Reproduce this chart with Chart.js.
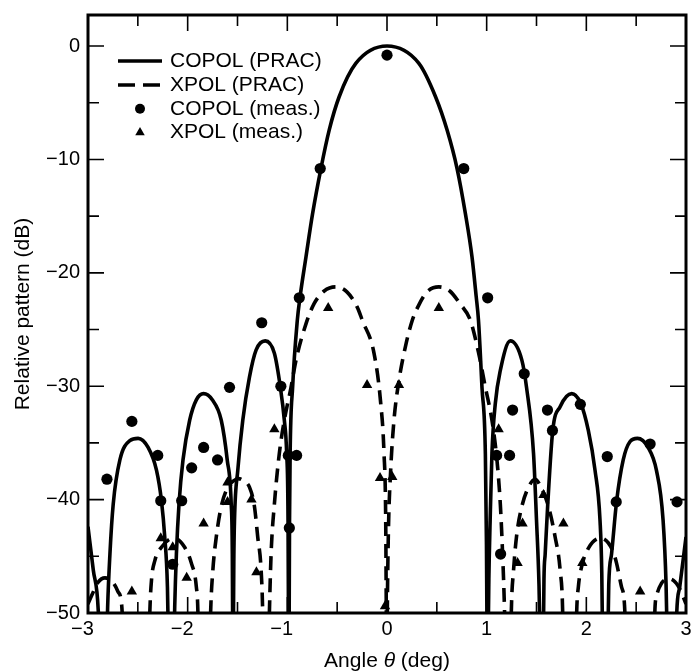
<!DOCTYPE html>
<html><head><meta charset="utf-8">
<script src="https://cdn.jsdelivr.net/npm/chart.js@4/dist/chart.umd.min.js"></script>
<style>html,body{margin:0;padding:0;background:#fff;}canvas{display:block;}</style>
</head><body>
<canvas id="c" width="692" height="671"></canvas>
<script>
const FONT = '"Liberation Sans", Arial, Helvetica, sans-serif';

// axis ticks
const xTickValues = [-3, -2, -1, 0, 1, 2, 3];
const xMinorValues = [-2.5, -1.5, -0.5, 0.5, 1.5, 2.5];
const yTickValues = [-50, -40, -30, -20, -10, 0];
const yMinorValues = [-45, -35, -25, -15, -5];
const xRange = [-3, 3];
const yRange = [-50, 2.74];

const seriesLabels = ['COPOL (PRAC)', 'XPOL (PRAC)', 'COPOL (meas.)', 'XPOL (meas.)'];
const xTitle = ['Angle ', '\u03b8', ' (deg)'];
const yTitle = 'Relative pattern (dB)';

// COPOL (PRAC) curve; null = gap at a deep null
const copolTheta = [
  -3.0, -2.947, -2.897, -2.882, -2.85,
  -2.815, -2.803, -2.78, -2.747, -2.68, -2.58, -2.497, -2.397, -2.313, -2.263, -2.23, -2.203, -2.19, -2.165,
  -2.14, -2.13, -2.113, -2.087, -2.047, -1.98, -1.913, -1.84, -1.753, -1.663, -1.603, -1.563, -1.552, -1.547, -1.545,
  -1.543, -1.537, -1.53, -1.497, -1.447, -1.38, -1.313, -1.222, -1.13, -1.07, -1.03, -1.007, -0.993, -0.987, -0.985,
  -0.983, -0.978, -0.972, -0.947, -0.9, -0.872, -0.813, -0.747, -0.663, -0.58, -0.48, -0.313, 0, 0.32, 0.487, 0.603, 0.703, 0.787, 0.853, 0.895, 0.918, 0.953, 0.987, 0.998, 1.005, 1.009,
  1.013, 1.022, 1.035, 1.053, 1.087, 1.137, 1.237, 1.353, 1.40, 1.47, 1.50, 1.525, 1.54, 1.553,
  1.567, 1.575, 1.587, 1.613, 1.663, 1.737, 1.853, 1.943, 2.02, 2.087, 2.137, 2.155, 2.165, 2.19,
  2.213, 2.225, 2.253, 2.303, 2.37, 2.437, 2.513, 2.62, 2.703, 2.77, 2.80, 2.815, 2.86,
  2.897, 2.907, 2.937, 3.0
];
const copolDb = [
  -42.4, -46.2, -49.8, -54, null,
  -54, -49.5, -44.8, -40.4, -36.5, -34.8, -34.6, -35.4, -37.4, -40.1, -43.3, -47.7, -54, null,
  -54, -49.5, -44.8, -40.4, -36.5, -33.0, -31.2, -30.65, -31.2, -33.0, -36.5, -40.4, -44.8, -54, null,
  -54, -45.5, -41.8, -37.4, -33.0, -29.2, -26.8, -26.0, -27.1, -30.1, -33.0, -35.9, -41.8, -54, null,
  -54, -42, -36, -30.1, -24.2, -22.1, -18.6, -14.8, -10.8, -7.41, -4.47, -1.53, 0, -1.53, -4.47, -7.41, -10.8, -14.8, -18.6, -22.1, -24.2, -30.1, -36, -44, -54, null,
  -54, -47, -41.8, -35.9, -31.5, -28.6, -26.0, -27.7, -30.1, -35.9, -41.8, -47.5, -54, null,
  -54, -47, -44.8, -40.4, -33.9, -31.8, -30.65, -31.5, -33.9, -37.4, -41.8, -46.5, -54, null,
  -54, -47.5, -44.8, -40.2, -36.5, -34.9, -34.6, -35.4, -37.4, -41.8, -47.5, -54, null,
  -54, -50, -47.7, -43.3
];

// XPOL (PRAC) curve
const xpolTheta = [
  -3.0, -2.96, -2.90, -2.83, -2.76, -2.70, -2.663, -2.645, -2.5,
  -2.39, -2.38, -2.363, -2.33, -2.263, -2.14, -2.03, -1.963, -1.913, -1.897, -1.89, -1.83,
  -1.78, -1.77, -1.747, -1.713, -1.663, -1.597, -1.54, -1.49, -1.44, -1.38, -1.33, -1.297, -1.263, -1.247, -1.24, -1.215,
  -1.19, -1.18, -1.163, -1.13, -1.08, -1.03, -0.963, -0.913, -0.813, -0.73, -0.63, -0.513, -0.40, -0.30, -0.247, -0.13, -0.063, -0.03, -0.013, -0.007, -0.004, -0.002,
  0.0, 0.003, 0.013, 0.037, 0.07, 0.12, 0.185, 0.253, 0.31, 0.40, 0.52, 0.63, 0.73, 0.837, 0.92, 0.987, 1.053, 1.103, 1.137, 1.16, 1.18, 1.19, 1.215,
  1.24, 1.247, 1.27, 1.303, 1.353, 1.42, 1.485, 1.55, 1.62, 1.687, 1.737, 1.763, 1.77, 1.83,
  1.895, 1.903, 1.92, 1.953, 2.02, 2.145, 2.26, 2.303, 2.353, 2.387, 2.395, 2.55,
  2.68, 2.687, 2.703, 2.753, 2.837, 2.92, 2.987, 3.0
];
const xpolDb = [
  -49.2, -48.4, -47.3, -46.9, -47.2, -48.1, -49.2, -52, null,
  -54, -50, -47.1, -45.4, -44.2, -43.4, -44.2, -45.6, -47.7, -50, -54, null,
  -54, -50, -46.2, -43.3, -40.6, -38.9, -38.35, -38.15, -38.35, -38.9, -40.6, -43.3, -46.2, -50, -54, null,
  -54, -50, -44.8, -40.4, -35.9, -33.0, -30.1, -27.7, -24.5, -22.7, -21.6, -21.24, -21.7, -23.0, -24.2, -27.1, -31.5, -35.9, -41.8, -50, -54, null,
  -54, -50, -43.3, -37.4, -33.0, -29.5, -26.5, -24.2, -23.0, -21.7, -21.24, -21.6, -22.7, -24.2, -27.1, -30.1, -33.0, -36.5, -40.4, -44.8, -50, -54, null,
  -54, -50, -46.2, -43.0, -40.6, -38.9, -38.2, -39.0, -40.6, -43.3, -46.2, -50, -54, null,
  -54, -50, -47.7, -45.9, -44.3, -43.4, -44.4, -45.6, -47.7, -50, -54, null,
  -54, -50, -48.6, -47.4, -47.0, -47.6, -48.9, -49.2
];

// measured points
const copolMeasTheta = [-2.81, -2.56, -2.30, -2.27, -2.15, -2.06, -1.96, -1.84, -1.70, -1.58, -1.257, -1.065, -0.99, -0.907, -0.98, -0.88, -0.67, 0.0, 0.77, 1.01, 1.10, 1.14, 1.23, 1.26, 1.377, 1.61, 1.66, 1.94, 2.21, 2.30, 2.64, 2.91];
const copolMeasDb    = [-38.2, -33.1, -36.1, -40.1, -45.7, -40.1, -37.2, -35.4, -36.5, -30.1, -24.4, -30.0, -36.1, -36.1, -42.5, -22.2, -10.8, -0.8, -10.8, -22.2, -36.1, -44.8, -36.1, -32.1, -28.9, -32.1, -33.9, -31.6, -36.2, -40.2, -35.1, -40.2];
const xpolMeasTheta = [-2.56, -2.27, -2.15, -2.01, -1.84, -1.60, -1.60, -1.36, -1.31, -1.13, -0.59, -0.20, -0.07, -0.02, 0.053, 0.12, 0.52, 1.12, 1.31, 1.36, 1.57, 1.77, 1.96, 2.54];
const xpolMeasDb    = [-48.1, -43.4, -44.2, -46.9, -42.1, -38.5, -40.2, -40.0, -46.4, -33.8, -23.1, -29.9, -38.1, -49.4, -38.0, -29.9, -23.1, -33.8, -45.6, -42.1, -39.6, -42.1, -45.6, -48.1];

const pts = (xs, ys) => xs.map((x, i) => ({x: x, y: ys[i]}));
const minus = v => (v < 0 ? '\u2212' + Math.abs(v) : String(v));

const framePlugin = {
  id: 'frameTicks',
  afterDraw(chart) {
    const {ctx, chartArea: a, scales: {x, y}} = chart;
    ctx.save();
    ctx.strokeStyle = '#000';
    ctx.lineWidth = 1.6;
    ctx.setLineDash([]);
    const tick = (vals, len) => {
      vals.forEach(v => {
        const px = x.getPixelForValue(v);
        ctx.beginPath();
        ctx.moveTo(px, a.bottom); ctx.lineTo(px, a.bottom - len);
        ctx.moveTo(px, a.top); ctx.lineTo(px, a.top + len);
        ctx.stroke();
      });
    };
    const tickY = (vals, len) => {
      vals.forEach(v => {
        const py = y.getPixelForValue(v);
        ctx.beginPath();
        ctx.moveTo(a.left, py); ctx.lineTo(a.left + len, py);
        ctx.moveTo(a.right, py); ctx.lineTo(a.right - len, py);
        ctx.stroke();
      });
    };
    tick(xTickValues, 16); tick(xMinorValues, 11);
    tickY(yTickValues, 16); tickY(yMinorValues, 11);
    ctx.lineWidth = 3;
    ctx.strokeRect(a.left, a.top, a.right - a.left, a.bottom - a.top);

    // legend
    const rows = [61, 85, 108.8, 132.5];
    const x0 = 118, x1 = 162, xm = 140, xt = 170;
    ctx.lineWidth = 3.6;
    ctx.beginPath(); ctx.moveTo(x0, rows[0]); ctx.lineTo(x1, rows[0]); ctx.stroke();
    ctx.setLineDash([17, 8]);
    ctx.beginPath(); ctx.moveTo(x0, rows[1]); ctx.lineTo(x1, rows[1]); ctx.stroke();
    ctx.setLineDash([]);
    ctx.fillStyle = '#000';
    ctx.beginPath(); ctx.arc(xm, rows[2], 5, 0, Math.PI * 2); ctx.fill();
    const r = 5.5;
    ctx.beginPath();
    ctx.moveTo(xm, rows[3] - r);
    ctx.lineTo(xm + r * Math.sin(2 * Math.PI / 3), rows[3] - r * Math.cos(2 * Math.PI / 3));
    ctx.lineTo(xm + r * Math.sin(4 * Math.PI / 3), rows[3] - r * Math.cos(4 * Math.PI / 3));
    ctx.closePath(); ctx.fill();
    ctx.font = '21px ' + FONT;
    ctx.textBaseline = 'middle';
    ctx.textAlign = 'left';
    seriesLabels.forEach((t, i) => ctx.fillText(t, xt, rows[i]));

    // x-axis title with italic theta
    const fN = '21px ' + FONT, fI = 'italic 21px ' + FONT;
    ctx.textBaseline = 'alphabetic';
    ctx.font = fN; const w0 = ctx.measureText(xTitle[0]).width, w2 = ctx.measureText(xTitle[2]).width;
    ctx.font = fI; const w1 = ctx.measureText(xTitle[1]).width;
    const cx = (a.left + a.right) / 2;
    let sx = cx - (w0 + w1 + w2) / 2;
    const by = 667;
    ctx.font = fN; ctx.fillText(xTitle[0], sx, by); sx += w0;
    ctx.font = fI; ctx.fillText(xTitle[1], sx, by); sx += w1;
    ctx.font = fN; ctx.fillText(xTitle[2], sx, by);
    ctx.restore();
  }
};

new Chart(document.getElementById('c'), {
  type: 'scatter',
  data: {
    datasets: [
      { label: seriesLabels[2], data: pts(copolMeasTheta, copolMeasDb), showLine: false,
        pointStyle: 'circle', pointRadius: 5.6, backgroundColor: '#000', borderWidth: 0, order: 0, clip: 0 },
      { label: seriesLabels[3], data: pts(xpolMeasTheta, xpolMeasDb), showLine: false,
        pointStyle: 'triangle', pointRadius: 6, backgroundColor: '#000', borderWidth: 0, order: 0, clip: 0 },
      { label: seriesLabels[0], data: pts(copolTheta, copolDb), showLine: true, pointRadius: 0,
        borderColor: '#000', borderWidth: 3.6, cubicInterpolationMode: 'monotone', spanGaps: false, order: 1, clip: 0 },
      { label: seriesLabels[1], data: pts(xpolTheta, xpolDb), showLine: true, pointRadius: 0,
        borderColor: '#000', borderWidth: 3.6, borderDash: [14, 8], cubicInterpolationMode: 'monotone', spanGaps: false, order: 1, clip: 0 }
    ]
  },
  options: {
    responsive: false,
    devicePixelRatio: 1,
    animation: false,
    events: [],
    layout: { padding: { left: 0, right: 4, top: 15, bottom: 0 } },
    plugins: { legend: { display: false }, tooltip: { enabled: false } },
    scales: {
      x: {
        type: 'linear', min: xRange[0], max: xRange[1],
        grid: { display: false, drawTicks: false }, border: { display: false },
        afterBuildTicks: s => { s.ticks = xTickValues.map(v => ({value: v})); },
        afterFit: s => { s.height = 58; s.paddingLeft = 0; s.paddingRight = 0; },
        ticks: { color: '#000', font: { family: FONT, size: 20 }, padding: 4, maxRotation: 0, autoSkip: false,
          callback: v => (v < 0 ? minus(v) + '\u2007' : String(v)) }
      },
      y: {
        type: 'linear', min: yRange[0], max: yRange[1],
        grid: { display: false, drawTicks: false }, border: { display: false },
        afterBuildTicks: s => { s.ticks = yTickValues.map(v => ({value: v})); },
        afterFit: s => { s.width = 88; s.paddingTop = 0; s.paddingBottom = 0; },
        ticks: { color: '#000', font: { family: FONT, size: 20 }, padding: 8, autoSkip: false,
          callback: v => minus(v) },
        title: { display: true, text: yTitle, color: '#000', font: { family: FONT, size: 21 }, padding: { top: 11, bottom: 0 } }
      }
    }
  },
  plugins: [framePlugin]
});
</script>
</body></html>
